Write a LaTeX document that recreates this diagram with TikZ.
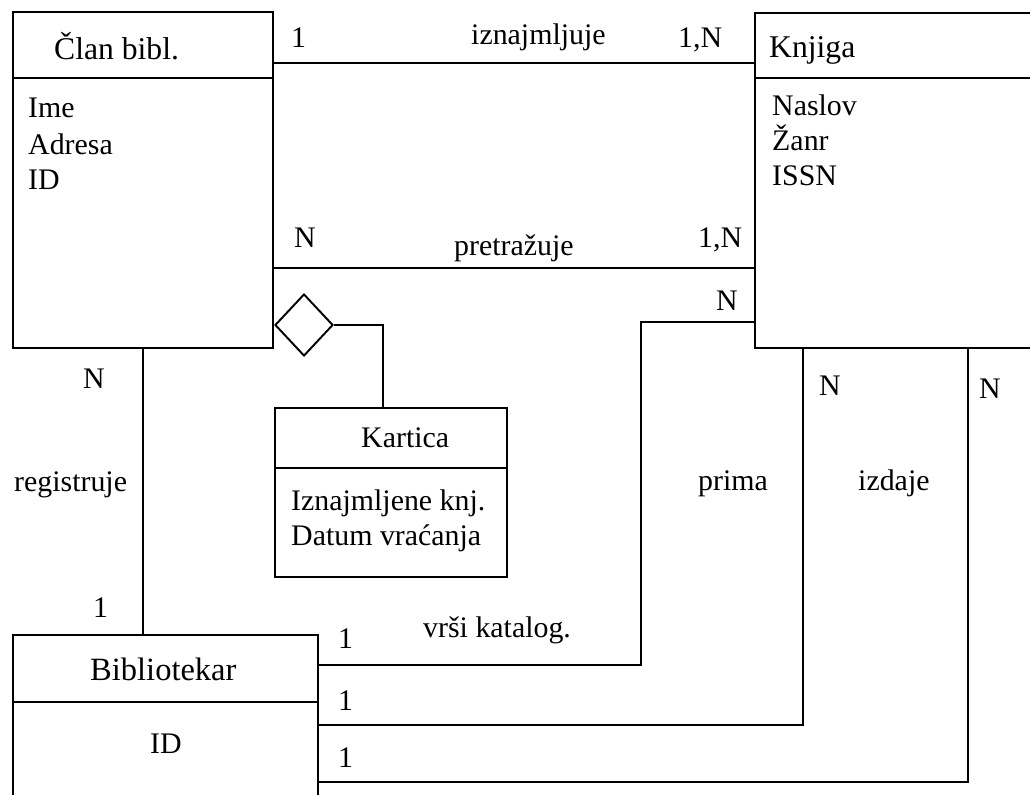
\documentclass[tikz,border=0pt]{standalone}
\usepackage{fontspec}
\setmainfont{Liberation Serif}
\usetikzlibrary{shapes.geometric}
\begin{document}
\begin{tikzpicture}[x=0.02cm, y=-0.02cm, line width=1.4pt,
    font=\fontsize{17}{20}\selectfont,
    entity/.style={draw, rectangle, inner sep=0pt},
    txt/.style={inner sep=0pt, anchor=base west},
    ttl/.style={txt, font=\fontsize{18}{21}\selectfont},
    card/.style={txt},
    agg/.style={draw, diamond, inner sep=0pt, line width=1.1pt}]
  \useasboundingbox (0,0) rectangle (1030,794);
  \clip (0,0) rectangle (1030,794);
  % entities
  \node[entity, minimum width=5.2cm, minimum height=6.72cm] (clan) at (143,180) {};
  \node[entity, minimum width=5.8cm, minimum height=6.7cm] (knjiga) at (900,180.5) {};
  \node[entity, minimum width=4.64cm, minimum height=3.38cm] (kartica) at (391,492.5) {};
  \node[entity, minimum width=6.1cm, minimum height=3.5cm] (bibl) at (165.5,722.5) {};
  \node[agg, minimum width=1.16cm, minimum height=1.24cm] (veza) at (304,325) {};
  % title rows
  \draw (clan.west |- 0,78) -- (clan.east |- 0,78);
  \draw (knjiga.west |- 0,78) -- (knjiga.east |- 0,78);
  \draw (kartica.west |- 0,468) -- (kartica.east |- 0,468);
  \draw (bibl.west |- 0,702) -- (bibl.east |- 0,702);
  \node[ttl] (clanT) at (53,60) {Član bibl.};
  \node[ttl] (knjigaT) at (768,58) {Knjiga};
  \node[txt] (karticaT) at (360,447) {Kartica};
  \node[ttl, font=\fontsize{18.5}{21}\selectfont] (biblT) at (89,680) {Bibliotekar};
  % attributes
  \foreach \t/\y [count=\i] in {Ime/117, Adresa/154, ID/189}
    \node[txt] (clanA\i) at (27,\y) {\t};
  \foreach \t/\y [count=\i] in {Naslov/115, Žanr/150, ISSN/185}
    \node[txt] (knjigaA\i) at (771,\y) {\t};
  \node[txt] (karticaA1) at (290,510) {Iznajmljene knj.};
  \node[txt] (karticaA2) at (290,545) {Datum vraćanja};
  \node[txt] (biblA1) at (149,753) {ID};
  % relations
  \draw (clan.east |- 0,63) -- (knjiga.west |- 0,63);
  \draw (clan.east |- 0,268) -- (knjiga.west |- 0,268);
  \draw (veza.east) -| ([xshift=-0.16cm]kartica.north);
  \draw (clan.south) -- (bibl.north -| clan.south);
  \draw (bibl.east |- 0,665) -- ++(322,0) |- (knjiga.west |- 0,322);
  \draw (bibl.east |- 0,725) -| (knjiga.south -| 803,0);
  \draw (bibl.east |- 0,782) -| (knjiga.south -| 968,0);
  % labels
  \node[card] (c1) at (290,48) {1};
  \node[txt] (r1) at (470,45) {iznajmljuje};
  \node[card] (c2) at (677,48) {1,N};
  \node[card] (c3) at (293,247) {N};
  \node[txt] (r2) at (453,255) {pretražuje};
  \node[card] (c4) at (697,247) {1,N};
  \node[card] (c5) at (715,310) {N};
  \node[card] (c6) at (82,388) {N};
  \node[txt] (r3) at (13,491) {registruje};
  \node[card] (c7) at (92,617) {1};
  \node[txt] (r4) at (697,490) {prima};
  \node[txt] (r5) at (857,490) {izdaje};
  \node[card] (c8) at (818,395) {N};
  \node[card] (c9) at (978,398) {N};
  \node[txt] (r6) at (422,637) {vrši katalog.};
  \node[card] (c10) at (337,648) {1};
  \node[card] (c11) at (337,710) {1};
  \node[card] (c12) at (337,767) {1};
\end{tikzpicture}
\end{document}
